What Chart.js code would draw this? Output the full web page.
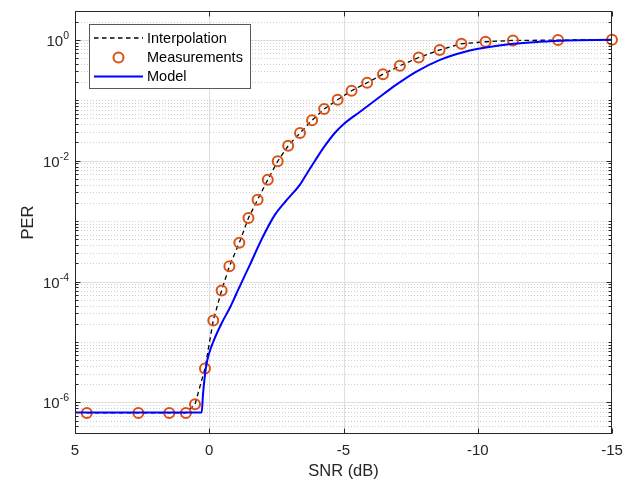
<!DOCTYPE html>
<html><head><meta charset="utf-8">
<script src="https://cdn.jsdelivr.net/npm/chart.js@4.4.0/dist/chart.umd.min.js"></script>
<style>html,body{margin:0;padding:0;background:#fff;}canvas{display:block;}</style>
</head><body>
<canvas id="c" width="632" height="485"></canvas>
<script>
// ---- data ----
const measSNR = [4.56, 2.64, 1.49, 0.87, 0.53, 0.16, -0.15, -0.46, -0.75, -1.12, -1.46, -1.80, -2.18, -2.55, -2.94, -3.38, -3.83, -4.28, -4.78, -5.30, -5.88, -6.47, -7.10, -7.80, -8.58, -9.39, -10.29, -11.31, -12.99, -15];
const measPER = [6.7e-7, 6.7e-7, 6.7e-7, 6.7e-7, 9.3e-7, 3.65e-6, 2.27e-5, 7.1e-5, 1.79e-4, 4.37e-4, 1.13e-3, 2.26e-3, 4.85e-3, 9.8e-3, 1.77e-2, 2.87e-2, 4.67e-2, 7.16e-2, 0.102, 0.144, 0.195, 0.27, 0.372, 0.51, 0.68, 0.86, 0.93, 0.977, 0.99, 1.0];
const modelSNR = [5, 0.281, 0.233, 0.158, 0.084, -0.028, -0.214, -0.475, -0.773, -0.996, -1.220, -1.518, -2.002, -2.449, -2.896, -3.380, -3.678, -3.939, -4.311, -4.683, -4.981, -5.615, -6.210, -6.955, -7.700, -8.594, -9.562, -10.307, -11.313, -12.281, -13.287, -15];
const modelPER = [6.8e-7, 6.8e-7, 1.355e-6, 2.90e-6, 4.76e-6, 7.24e-6, 1.186e-5, 2.10e-5, 3.72e-5, 6.10e-5, 1.0e-4, 1.91e-4, 5.55e-4, 1.28e-3, 2.26e-3, 4.01e-3, 6.58e-3, 1.0e-2, 1.77e-2, 2.90e-2, 3.94e-2, 6.46e-2, 0.102, 0.180, 0.296, 0.467, 0.643, 0.748, 0.859, 0.927, 0.977, 1.0];
const xTicks = [5, 0, -5, -10, -15];
const yMajorExp = [-6, -4, -2, 0];
const yRange = [3e-7, 3];
const xTitle = 'SNR (dB)';
const yTitle = 'PER';
const legendLabels = ['Interpolation', 'Measurements', 'Model'];

const FONT = "'Liberation Sans', Arial, Helvetica, sans-serif";
const TXT = '#262626';
const ORANGE = '#D95319';
const BLUE = '#0000FF';

const toPts = (xs, ys) => xs.map((x, i) => ({x: x, y: ys[i]}));

function hline(ctx, x1, x2, y) { ctx.beginPath(); ctx.moveTo(x1, y); ctx.lineTo(x2, y); ctx.stroke(); }
function vline(ctx, x, y1, y2) { ctx.beginPath(); ctx.moveTo(x, y1); ctx.lineTo(x, y2); ctx.stroke(); }

function minorValues(y) {
  const out = [];
  for (let e = -8; e <= 1; e++) {
    for (let k = 1; k <= 9; k++) {
      if (k === 1 && yMajorExp.includes(e)) continue;
      const v = k * Math.pow(10, e);
      if (v <= y.min * 1.0001 || v >= y.max * 0.9999) continue;
      out.push(v);
    }
  }
  return out;
}

const matlabPlugin = {
  id: 'matlabAxes',
  beforeDatasetsDraw(chart) {
    const {ctx, chartArea: a, scales: {x, y}} = chart;
    ctx.save();
    ctx.beginPath(); ctx.rect(a.left, a.top, a.right - a.left, a.bottom - a.top); ctx.clip();
    ctx.lineWidth = 1;
    ctx.strokeStyle = '#cfcfcf';
    ctx.setLineDash([1, 2]);
    minorValues(y).forEach(v => {
      const py = Math.round(y.getPixelForValue(v)) + 0.5;
      hline(ctx, a.left, a.right, py);
    });
    ctx.setLineDash([]);
    ctx.strokeStyle = '#dfdfdf';
    yMajorExp.forEach(e => {
      const py = Math.round(y.getPixelForValue(Math.pow(10, e))) + 0.5;
      hline(ctx, a.left, a.right, py);
    });
    xTicks.forEach(v => {
      const px = Math.round(x.getPixelForValue(v)) + 0.5;
      vline(ctx, px, a.top, a.bottom);
    });
    ctx.restore();
  },
  afterDatasetsDraw(chart) {
    const {ctx, chartArea: a, scales: {x, y}} = chart;
    const L = Math.round(a.left) + 0.5, R = Math.round(a.right) - 0.5;
    const T = Math.round(a.top) + 0.5, B = Math.round(a.bottom) - 0.5;
    ctx.save();
    ctx.strokeStyle = TXT;
    ctx.lineWidth = 1;
    ctx.setLineDash([]);
    ctx.strokeRect(L, T, R - L, B - T);
    xTicks.forEach(v => {
      const px = Math.round(x.getPixelForValue(v)) + 0.5;
      vline(ctx, px, B, B - 5);
      vline(ctx, px, T, T + 5);
    });
    yMajorExp.forEach(e => {
      const py = Math.round(y.getPixelForValue(Math.pow(10, e))) + 0.5;
      hline(ctx, L, L + 5, py);
      hline(ctx, R, R - 5, py);
    });
    minorValues(y).forEach(v => {
      const py = Math.round(y.getPixelForValue(v)) + 0.5;
      hline(ctx, L, L + 3, py);
      hline(ctx, R, R - 3, py);
    });
    ctx.fillStyle = TXT;
    ctx.textBaseline = 'alphabetic';
    ctx.textAlign = 'left';
    yMajorExp.forEach(e => {
      const py = y.getPixelForValue(Math.pow(10, e));
      const expStr = String(e);
      ctx.font = '10.5px ' + FONT;
      const we = ctx.measureText(expStr).width;
      ctx.font = '15px ' + FONT;
      const wb = ctx.measureText('10').width;
      const xr = a.left - 6;
      ctx.fillText('10', xr - we - wb, py + 6);
      ctx.font = '10.5px ' + FONT;
      ctx.fillText(expStr, xr - we, py - 1);
    });
    ctx.restore();
  },
  afterDraw(chart) {
    const {ctx} = chart;
    ctx.save();
    const bx = 89.5, by = 24.5, bw = 161, bh = 64;
    ctx.fillStyle = '#ffffff';
    ctx.fillRect(bx, by, bw, bh);
    ctx.strokeStyle = '#5a5a5a';
    ctx.lineWidth = 1;
    ctx.strokeRect(bx, by, bw, bh);
    const rows = [38, 57.5, 76.5];
    const sx1 = 94, sx2 = 143, tx = 147;
    ctx.strokeStyle = '#000000';
    ctx.lineWidth = 1.3;
    ctx.setLineDash([4.5, 3.5]);
    hline(ctx, sx1, sx2, rows[0]);
    ctx.setLineDash([]);
    ctx.strokeStyle = ORANGE;
    ctx.lineWidth = 2;
    ctx.beginPath(); ctx.arc((sx1 + sx2) / 2, rows[1], 5, 0, Math.PI * 2); ctx.stroke();
    ctx.strokeStyle = BLUE;
    ctx.lineWidth = 2;
    hline(ctx, sx1, sx2, rows[2]);
    ctx.fillStyle = '#000000';
    ctx.font = '14.5px ' + FONT;
    ctx.textBaseline = 'middle';
    ctx.textAlign = 'left';
    legendLabels.forEach((t, i) => ctx.fillText(t, tx, rows[i] + 0.5));
    ctx.restore();
  }
};

new Chart(document.getElementById('c'), {
  type: 'line',
  data: {
    datasets: [
      {
        label: legendLabels[2],
        data: toPts(modelSNR, modelPER),
        borderColor: BLUE, borderWidth: 2, pointRadius: 0, fill: false,
        cubicInterpolationMode: 'monotone', order: 1
      },
      {
        label: legendLabels[1],
        data: toPts(measSNR, measPER),
        showLine: false, pointStyle: 'circle', pointRadius: 5, pointBorderWidth: 2,
        pointBorderColor: ORANGE, pointBackgroundColor: 'rgba(0,0,0,0)', borderColor: ORANGE,
        clip: false, order: 2
      },
      {
        label: legendLabels[0],
        data: toPts(measSNR, measPER),
        borderColor: '#000000', borderWidth: 1.3, borderDash: [4.5, 3.5], pointRadius: 0, fill: false, tension: 0, order: 3
      }
    ]
  },
  options: {
    responsive: false,
    animation: false,
    devicePixelRatio: 1,
    layout: {padding: {left: 0, top: 11, right: 20, bottom: 0}},
    plugins: {legend: {display: false}, tooltip: {enabled: false}},
    events: [],
    scales: {
      x: {
        type: 'linear', min: -15, max: 5, reverse: true,
        grid: {display: false, drawTicks: false},
        border: {display: false},
        afterBuildTicks: s => { s.ticks = xTicks.map(v => ({value: v})); },
        afterFit: s => { s.height = 51; },
        ticks: {color: TXT, font: {family: FONT, size: 15}, padding: 8, maxRotation: 0, autoSkip: false},
        title: {display: true, text: xTitle, color: TXT, font: {family: FONT, size: 16.5}, padding: {top: 0, bottom: 4}}
      },
      y: {
        type: 'logarithmic', min: yRange[0], max: yRange[1],
        grid: {display: false, drawTicks: false},
        border: {display: false},
        ticks: {display: false},
        afterFit: s => { s.width = 75; },
        title: {display: true, text: yTitle, color: TXT, font: {family: FONT, size: 16.5}, padding: {top: 19, bottom: 0}}
      }
    }
  },
  plugins: [matlabPlugin]
});
</script>
</body></html>
